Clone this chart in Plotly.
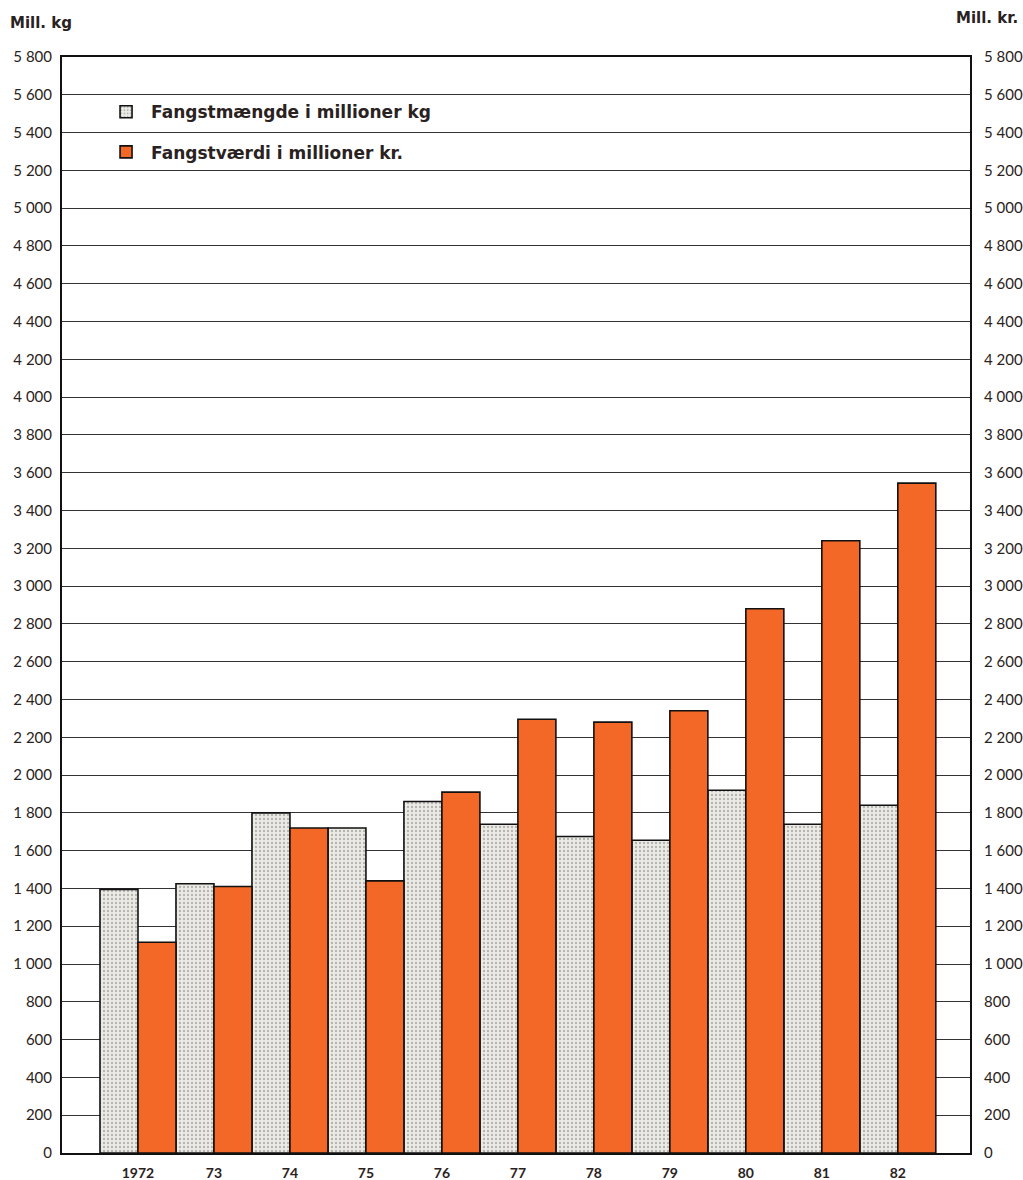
import plotly.graph_objects as go

years = ["1972", "73", "74", "75", "76", "77", "78", "79", "80", "81", "82"]
catch_kg = [1395, 1425, 1800, 1720, 1860, 1740, 1675, 1655, 1920, 1740, 1840]
value_kr = [1115, 1410, 1720, 1440, 1910, 2295, 2280, 2340, 2880, 3240, 3545]
y_ticks = list(range(0, 5801, 200))

FONT = "Lato"
HEAVY = "DejaVu Sans"
DARK = "#2a2220"

fig = go.Figure()
fig.add_trace(go.Bar(
    x=years, y=catch_kg, name="Fangstmængde i millioner kg",
    width=0.5, offset=-0.5, legendgroup="a",
    marker=dict(color="#e8e6e0", line=dict(color="#111", width=1.6),
                pattern=dict(shape=".", fgcolor="#7c7c7c", bgcolor="#ecebe6",
                             size=4, solidity=0.28)),
    yaxis="y",
))
fig.add_trace(go.Bar(
    x=years, y=value_kr, name="Fangstværdi i millioner kr.",
    width=0.5, offset=0.0, legendgroup="b",
    marker=dict(color="#f36826", line=dict(color="#111", width=1.6)),
    yaxis="y2",
))

fig.update_layout(
    width=1023, height=1180,
    margin=dict(l=62, r=53, t=57, b=27),
    paper_bgcolor="white", plot_bgcolor="white",
    separators=", ",
    font=dict(family=FONT, color=DARK, size=15),
    showlegend=True,
    legend=dict(x=0.043, y=0.966, xanchor="left", yanchor="top",
                bgcolor="rgba(0,0,0,0)", traceorder="grouped",
                tracegroupgap=15, itemwidth=40,
                font=dict(family=HEAVY, size=17, color=DARK, weight="bold")),
    xaxis=dict(type="category", range=[-1.0, 10.95], showgrid=False,
               showline=True, linecolor="#111", linewidth=2, mirror=True,
               ticks="", automargin=False, ticklabelstandoff=6,
               tickfont=dict(family=FONT, size=14, color=DARK, weight="bold")),
    yaxis=dict(range=[0, 5800], tickvals=y_ticks, tickformat=",d",
               showgrid=True, gridcolor="#333", gridwidth=1,
               showline=True, linecolor="#111", linewidth=2,
               ticks="", automargin=False, zeroline=False,
               ticklabelstandoff=5,
               tickfont=dict(family=FONT, size=15, color=DARK)),
    yaxis2=dict(range=[0, 5800], tickvals=y_ticks, tickformat=",d",
                overlaying="y", side="right", showgrid=False,
                showline=True, linecolor="#111", linewidth=2,
                ticks="", automargin=False, zeroline=False,
                ticklabelstandoff=9,
                tickfont=dict(family=FONT, size=15, color=DARK)),
    annotations=[
        dict(text="<b>Mill. kg</b>", xref="paper", yref="paper",
             x=-0.059, y=1.031, xanchor="left", yanchor="middle",
             showarrow=False,
             font=dict(family=HEAVY, size=15, color=DARK)),
        dict(text="<b>Mill. kr.</b>", xref="paper", yref="paper",
             x=1.055, y=1.036, xanchor="right", yanchor="middle",
             showarrow=False,
             font=dict(family=HEAVY, size=15, color=DARK)),
    ],
)

fig.write_html("out.html", config={"displayModeBar": False},
               post_script="document.body.style.margin='0';")
